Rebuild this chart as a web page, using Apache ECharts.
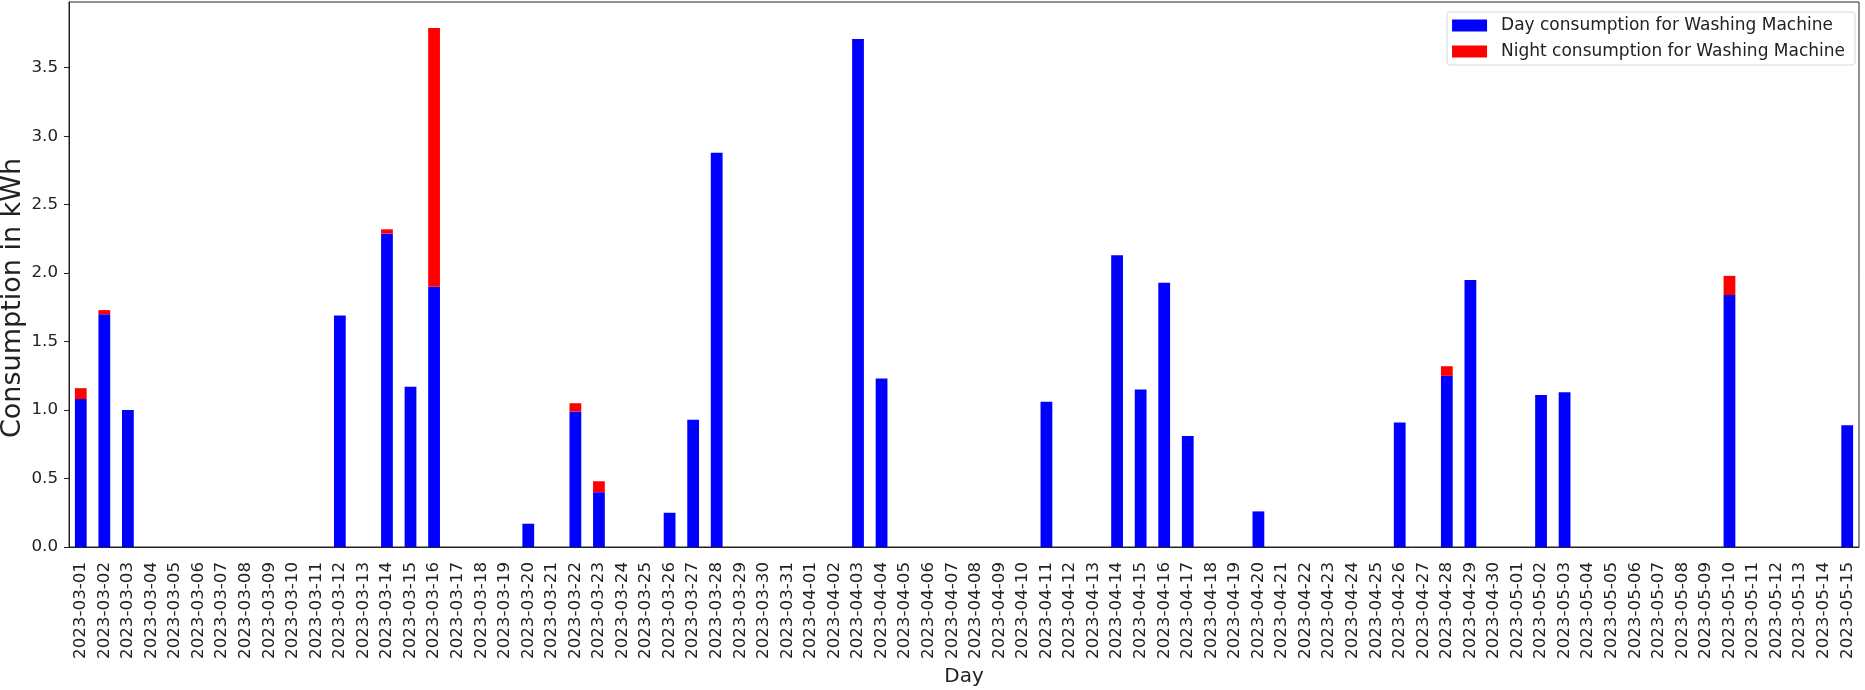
<!DOCTYPE html>
<html>
<head>
<meta charset="utf-8">
<script src="https://cdn.jsdelivr.net/npm/echarts@6/dist/echarts.min.js"></script>
<style>
  html, body { margin: 0; padding: 0; background: #fff; }
  #chart { width: 1865px; height: 690px; }
</style>
</head>
<body>
<div id="chart"></div>
<script>
const days = [
  "2023-03-01","2023-03-02","2023-03-03","2023-03-04","2023-03-05","2023-03-06","2023-03-07","2023-03-08",
  "2023-03-09","2023-03-10","2023-03-11","2023-03-12","2023-03-13","2023-03-14","2023-03-15","2023-03-16",
  "2023-03-17","2023-03-18","2023-03-19","2023-03-20","2023-03-21","2023-03-22","2023-03-23","2023-03-24",
  "2023-03-25","2023-03-26","2023-03-27","2023-03-28","2023-03-29","2023-03-30","2023-03-31",
  "2023-04-01","2023-04-02","2023-04-03","2023-04-04","2023-04-05","2023-04-06","2023-04-07","2023-04-08",
  "2023-04-09","2023-04-10","2023-04-11","2023-04-12","2023-04-13","2023-04-14","2023-04-15","2023-04-16",
  "2023-04-17","2023-04-18","2023-04-19","2023-04-20","2023-04-21","2023-04-22","2023-04-23","2023-04-24",
  "2023-04-25","2023-04-26","2023-04-27","2023-04-28","2023-04-29","2023-04-30",
  "2023-05-01","2023-05-02","2023-05-03","2023-05-04","2023-05-05","2023-05-06","2023-05-07","2023-05-08",
  "2023-05-09","2023-05-10","2023-05-11","2023-05-12","2023-05-13","2023-05-14","2023-05-15"
];

// Day consumption (kWh)
const dayConsumption = [
  1.08, 1.70, 1.00, 0, 0, 0, 0, 0,
  0, 0, 0, 1.69, 0, 2.29, 1.17, 1.90,
  0, 0, 0, 0.17, 0, 0.99, 0.40, 0,
  0, 0.25, 0.93, 2.88, 0, 0, 0,
  0, 0, 3.71, 1.23, 0, 0, 0, 0,
  0, 0, 1.06, 0, 0, 2.13, 1.15, 1.93,
  0.81, 0, 0, 0.26, 0, 0, 0, 0,
  0, 0.91, 0, 1.25, 1.95, 0,
  0, 1.11, 1.13, 0, 0, 0, 0, 0,
  0, 1.84, 0, 0, 0, 0, 0.89
];

// Night consumption (kWh)
const nightConsumption = [
  0.08, 0.03, 0, 0, 0, 0, 0, 0,
  0, 0, 0, 0, 0, 0.03, 0, 1.89,
  0, 0, 0, 0, 0, 0.06, 0.08, 0,
  0, 0, 0, 0, 0, 0, 0,
  0, 0, 0, 0, 0, 0, 0, 0,
  0, 0, 0, 0, 0, 0, 0, 0,
  0, 0, 0, 0, 0, 0, 0, 0,
  0, 0, 0, 0.07, 0, 0,
  0, 0, 0, 0, 0, 0, 0, 0,
  0, 0.14, 0, 0, 0, 0, 0
];

const yTicks = [0, 0.5, 1.0, 1.5, 2.0, 2.5, 3.0, 3.5];
const yMax = 3.98;

const FONT = "DejaVu Sans";
const TXT = "#222";

const chart = echarts.init(document.getElementById('chart'), null, { renderer: 'canvas' });
chart.setOption({
  animation: false,
  backgroundColor: '#fff',
  textStyle: { fontFamily: FONT },
  grid: {
    left: 69, right: 6, top: 2, bottom: 143,
    containLabel: false,
    outerBoundsMode: 'none',
    show: true, borderColor: '#222', borderWidth: 1, backgroundColor: 'transparent'
  },
  legend: {
    orient: 'vertical',
    right: 10, top: 12,
    data: ['Day consumption for Washing Machine', 'Night consumption for Washing Machine'],
    icon: 'rect',
    itemWidth: 35, itemHeight: 12, itemGap: 9,
    backgroundColor: '#fff',
    borderColor: '#d8d8d8', borderWidth: 1, borderRadius: 3,
    padding: [5, 10, 5, 5],
    textStyle: { fontFamily: FONT, fontSize: 17, color: TXT, padding: [0, 0, 0, 9] }
  },
  xAxis: {
    type: 'category',
    data: days,
    boundaryGap: true,
    name: 'Day',
    nameLocation: 'middle',
    nameGap: 120,
    nameMoveOverlap: false,
    nameTextStyle: { fontFamily: FONT, fontSize: 20, color: TXT },
    axisLine: { lineStyle: { color: '#222', width: 1 } },
    axisTick: { alignWithLabel: true, length: 5, lineStyle: { color: '#222' } },
    axisLabel: { rotate: 90, interval: 0, fontFamily: FONT, fontSize: 16.7, color: TXT, margin: 15 },
    splitLine: { show: false }
  },
  yAxis: {
    type: 'value',
    min: 0, max: yMax,
    name: 'Consumption in kWh',
    nameLocation: 'middle',
    nameRotate: 90,
    nameGap: 43,
    nameMoveOverlap: false,
    nameTextStyle: { fontFamily: FONT, fontSize: 27, color: TXT, padding: [0, 47, 0, 0] },
    axisLine: { show: true, lineStyle: { color: '#222', width: 1 } },
    axisTick: { show: true, length: 5, lineStyle: { color: '#222' }, customValues: yTicks },
    axisLabel: {
      fontFamily: FONT, fontSize: 16.7, color: TXT, margin: 11,
      customValues: yTicks,
      formatter: v => v.toFixed(1)
    },
    splitLine: { show: false }
  },
  series: [
    {
      name: 'Day consumption for Washing Machine',
      type: 'bar', stack: 'total',
      data: dayConsumption,
      barWidth: '50%',
      itemStyle: { color: '#0000ff' }
    },
    {
      name: 'Night consumption for Washing Machine',
      type: 'bar', stack: 'total',
      data: nightConsumption,
      barWidth: '50%',
      itemStyle: { color: '#ff0000' }
    }
  ]
});
</script>
</body>
</html>
